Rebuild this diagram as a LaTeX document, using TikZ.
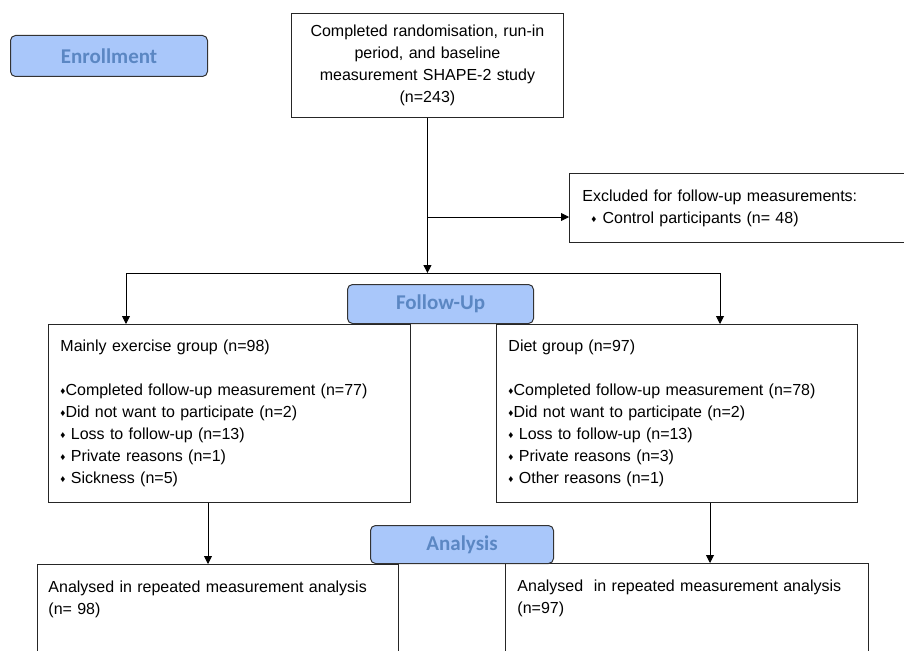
\documentclass[tikz,border=0pt]{standalone}
\usepackage{fontspec}
\setmainfont{Liberation Sans}
\newfontfamily\hdrfont{Carlito}
\usepackage{xcolor}
\usetikzlibrary{arrows.meta,positioning}
\definecolor{hdrfill}{HTML}{A9C7FA}
\definecolor{hdrtext}{HTML}{5B87C3}
\newcommand{\dia}{{\fontsize{10}{10}\selectfont\raisebox{1pt}{♦}}}

\begin{document}
\begin{tikzpicture}[
    x=1pt, y=-1pt,
    flowbox/.style={rectangle, draw=black!85, line width=0.9pt, anchor=north west, inner sep=0pt, font=\fontsize{16}{22}\selectfont},
    phasebox/.style={rectangle, rounded corners=5pt, draw=black!80, line width=1pt, fill=hdrfill, anchor=north west, text=hdrtext, font=\hdrfont\bfseries\fontsize{21}{21}\selectfont},
    flowline/.style={draw=black, line width=0.9pt},
    flowarrow/.style={flowline, -{Triangle[width=8pt,length=8pt]}}
]
\useasboundingbox (0,0) rectangle (904,650);
\clip (0,0) rectangle (904,650);

% boxes
\node[flowbox, minimum width=272, minimum height=104, align=center, text width=260] (start) at (291,13) {Completed randomisation, run-in\\period, and baseline\\measurement SHAPE-2 study\\(n=243)};
\node[flowbox, minimum width=400, minimum height=69, align=left, text width=374] (excl) at (569,173) {Excluded for follow-up measurements:\\\hspace*{9pt}\dia\hspace{6pt}Control participants (n= 48)};
\node[flowbox, minimum width=362, minimum height=178, align=left, text width=338] (exer) at (48,324) {Mainly exercise group (n=98)\\[22pt]\dia Completed follow-up measurement (n=77)\\\dia Did not want to participate (n=2)\\\dia\ Loss to follow-up (n=13)\\\dia\ Private reasons (n=1)\\\dia\ Sickness (n=5)};
\node[flowbox, minimum width=361, minimum height=178, align=left, text width=337] (diet) at (496,324) {Diet group (n=97)\\[22pt]\dia Completed follow-up measurement (n=78)\\\dia Did not want to participate (n=2)\\\dia\ Loss to follow-up (n=13)\\\dia\ Private reasons (n=3)\\\dia\ Other reasons (n=1)};
\node[flowbox, minimum width=361, align=left, text width=339, inner ysep=16pt, text depth=110pt] (anex) at (37,564) {Analysed in repeated measurement analysis\\(n= 98)};
\node[flowbox, minimum width=363, align=left, text width=339, inner ysep=16pt, text depth=110pt] (andi) at (505,563) {Analysed\ \ in repeated measurement analysis\\(n=97)};

% connectors
\coordinate (split) at (start.south |- 0,273);
\coordinate (ex) at (start.south |- 0,217);
\coordinate (bl) at (126,273);
\coordinate (br) at (720,273);
\draw[flowarrow] (start.south) -- (split);
\draw[flowarrow] (ex) -- (ex -| excl.west);
\draw[flowline] (bl) -- (br);
\draw[flowarrow] (bl) -- (bl |- exer.north);
\draw[flowarrow] (br) -- (br |- diet.north);
\draw[flowarrow] (exer.south -| 208,0) -- (anex.north -| 208,0);
\draw[flowarrow] (diet.south -| 710,0) -- (andi.north -| 710,0);

% phases
\node[phasebox, minimum width=197, minimum height=41] (enrol) at (10,35) {Enrollment};
\node[phasebox, minimum width=186, minimum height=39] (fup) at (347,284) {Follow-Up};
\node[phasebox, minimum width=183, minimum height=38] (anal) at (370,525) {Analysis};
\end{tikzpicture}
\end{document}
